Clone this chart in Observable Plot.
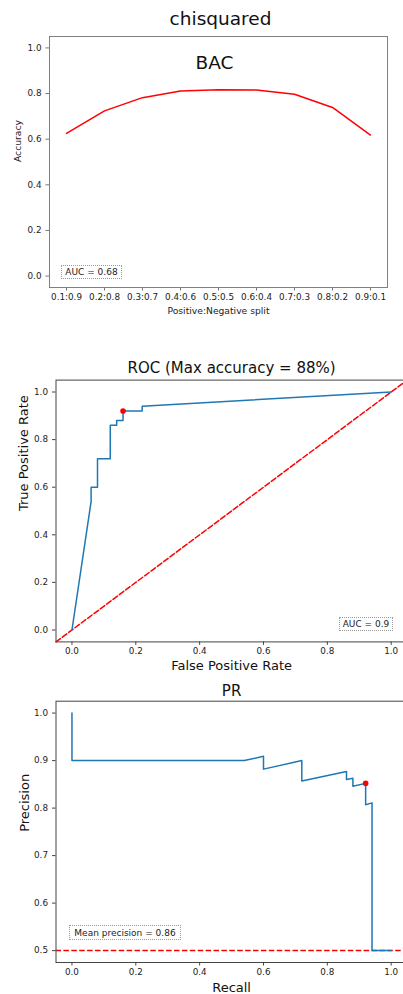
<!DOCTYPE html>
<html><head><meta charset="utf-8">
<script src="https://cdn.jsdelivr.net/npm/d3@7"></script>
<script src="https://cdn.jsdelivr.net/npm/@observablehq/plot@0.6"></script>
<style>
html,body{margin:0;padding:0;background:#fff;}
#root{position:relative;width:403px;height:994px;overflow:hidden;font-family:"DejaVu Sans",sans-serif;background:#fff;}
.panel{position:absolute;left:0;}
.box{position:absolute;box-sizing:border-box;border:1px dotted #9a9a9a;background:rgba(255,255,255,0.85);font-size:9px;color:#222;display:flex;align-items:center;justify-content:center;white-space:nowrap;font-family:"DejaVu Sans",sans-serif;}
</style></head><body><div id="root"></div>
<script>
// ---- data ----
const figureTitle = ["chisquared"];
const bacLabel = ["BAC"];
const splits = ["0.1:0.9","0.2:0.8","0.3:0.7","0.4:0.6","0.5:0.5","0.6:0.4","0.7:0.3","0.8:0.2","0.9:0.1"];
const bacAccuracy = [0.625,0.724,0.782,0.811,0.817,0.816,0.797,0.739,0.618];
const bacAuc = "AUC = 0.68";
const bacXLabel = ["Positive:Negative split"];
const bacYLabel = ["Accuracy"];

const rocTitle = ["ROC (Max accuracy = 88%)"];
const rocFpr = [0,0.06,0.06,0.08,0.08,0.12,0.12,0.14,0.14,0.16,0.16,0.22,0.22,1.0];
const rocTpr = [0,0.54,0.60,0.60,0.72,0.72,0.86,0.86,0.88,0.88,0.92,0.92,0.94,1.0];
const rocBestFpr = [0.16];
const rocBestTpr = [0.92];
const rocAuc = "AUC = 0.9";
const rocXLabel = ["False Positive Rate"];
const rocYLabel = ["True Positive Rate"];

const prTitle = ["PR"];
const prRecall    = [0,  0,  0.54,0.60, 0.60, 0.72,0.72, 0.86, 0.86,0.88, 0.88, 0.92, 0.92, 0.94, 0.94,1.0];
const prPrecision = [1.0,0.9,0.90,0.909,0.882,0.90,0.857,0.877,0.86,0.863,0.846,0.852,0.807,0.811,0.5, 0.5];
const prBestRecall = [0.92];
const prBestPrecision = [0.852];
const prBaseline = [0.5];
const prMean = "Mean precision = 0.86";
const prXLabel = ["Recall"];
const prYLabel = ["Precision"];

const unitTicks = [0,0.2,0.4,0.6,0.8,1.0];
const precisionTicks = [0.5,0.6,0.7,0.8,0.9,1.0];
const unitDomain = [-0.05,1.05];
const precisionDomain = [0.475,1.025];

// ---- helpers ----
const root = document.getElementById("root");
const FONT = "DejaVu Sans";
const TICK_FS = 8.8;
const fmt1 = d3.format(".1f");
function place(node, top, width) {
  const div = document.createElement("div");
  div.className = "panel";
  div.style.top = top + "px";
  div.style.width = width + "px";
  div.appendChild(node);
  root.appendChild(div);
}
function box(text, left, top, w, h) {
  const d = document.createElement("div");
  d.className = "box";
  d.style.left = left + "px"; d.style.top = top + "px";
  d.style.width = w + "px"; d.style.height = h + "px";
  d.textContent = text;
  root.appendChild(d);
}
const pts = (xs, ys) => xs.map((x, i) => ({x, y: ys[i]}));
const style = {fontFamily: FONT, fontSize: TICK_FS + "px", color: "#222", background: "transparent", maxWidth: "none", overflow: "visible"};

// ---- panel 1: BAC ----
const p1 = Plot.plot({
  width: 403, height: 330,
  marginTop: 36, marginRight: 16, marginBottom: 43, marginLeft: 49,
  style,
  x: {type: "point", domain: splits, padding: 0.4},
  y: {domain: unitDomain},
  marks: [
    Plot.axisX({tickSize: 3.5, tickPadding: 2.5, label: null, stroke: "#777", fontSize: TICK_FS}),
    Plot.axisY({ticks: unitTicks, tickFormat: fmt1, tickSize: 3.5, tickPadding: 4.5, label: null, stroke: "#777", fontSize: TICK_FS}),
    Plot.line(pts(splits, bacAccuracy), {x: "x", y: "y", stroke: "red", strokeWidth: 1.5}),
    Plot.frame({stroke: "#808080", strokeWidth: 1}),
    Plot.text(figureTitle, {text: d => d, frameAnchor: "top", lineAnchor: "middle", dy: -17, dx: 2, fontSize: 18.5, fill: "#111"}),
    Plot.text(bacLabel, {text: d => d, frameAnchor: "top", lineAnchor: "middle", dy: 27, dx: -4, fontSize: 18.5, fill: "#111"}),
    Plot.text(bacXLabel, {text: d => d, frameAnchor: "bottom", lineAnchor: "middle", dy: 23.5, fontSize: 9.2}),
    Plot.text(bacYLabel, {text: d => d, frameAnchor: "left", lineAnchor: "middle", dx: -31.2, rotate: -90, fontSize: 9.2})
  ]
});
place(p1, 0, 403);
box(bacAuc, 61, 265, 61, 13.5);

// ---- panel 2: ROC ----
const p2 = Plot.plot({
  width: 407, height: 325,
  marginTop: 24.6, marginRight: 0.35, marginBottom: 38.6, marginLeft: 55.5,
  style,
  x: {domain: unitDomain},
  y: {domain: unitDomain},
  marks: [
    Plot.axisX({ticks: unitTicks, tickFormat: fmt1, tickSize: 3.5, tickPadding: 2.5, label: null, stroke: "#444", fontSize: TICK_FS}),
    Plot.axisY({ticks: unitTicks, tickFormat: fmt1, tickSize: 3.5, tickPadding: 4.5, label: null, stroke: "#444", fontSize: TICK_FS}),
    Plot.line(unitDomain, {x: d => d, y: d => d, stroke: "red", strokeWidth: 1.5, strokeDasharray: "5.5,2.4"}),
    Plot.line(pts(rocFpr, rocTpr), {x: "x", y: "y", stroke: "#1f77b4", strokeWidth: 1.5}),
    Plot.dot(pts(rocBestFpr, rocBestTpr), {x: "x", y: "y", r: 2.8, fill: "red", stroke: "none"}),
    Plot.frame({stroke: "#444", strokeWidth: 1}),
    Plot.text(rocTitle, {text: d => d, frameAnchor: "top", lineAnchor: "middle", dy: -11.7, fontSize: 15, fill: "#111"}),
    Plot.text(rocXLabel, {text: d => d, frameAnchor: "bottom", lineAnchor: "middle", dy: 24.4, fontSize: 13, fill: "#111"}),
    Plot.text(rocYLabel, {text: d => d, frameAnchor: "left", lineAnchor: "middle", dx: -32, rotate: -90, fontSize: 13, fill: "#111"})
  ]
});
place(p2, 355, 407);
box(rocAuc, 339, 617, 54, 13.5);

// ---- panel 3: PR ----
const p3 = Plot.plot({
  width: 407, height: 314,
  marginTop: 20.7, marginRight: 0.35, marginBottom: 32, marginLeft: 55.5,
  style,
  x: {domain: unitDomain},
  y: {domain: precisionDomain},
  marks: [
    Plot.axisX({ticks: unitTicks, tickFormat: fmt1, tickSize: 3.5, tickPadding: 2.5, label: null, stroke: "#444", fontSize: TICK_FS}),
    Plot.axisY({ticks: precisionTicks, tickFormat: fmt1, tickSize: 3.5, tickPadding: 4.5, label: null, stroke: "#444", fontSize: TICK_FS}),
    Plot.ruleY(prBaseline, {stroke: "red", strokeWidth: 1.5, strokeDasharray: "5.5,2.4"}),
    Plot.line(pts(prRecall, prPrecision), {x: "x", y: "y", stroke: "#1f77b4", strokeWidth: 1.5}),
    Plot.dot(pts(prBestRecall, prBestPrecision), {x: "x", y: "y", r: 2.8, fill: "red", stroke: "none"}),
    Plot.frame({stroke: "#444", strokeWidth: 1}),
    Plot.text(prTitle, {text: d => d, frameAnchor: "top", lineAnchor: "middle", dy: -10.5, fontSize: 15, fill: "#111"}),
    Plot.text(prXLabel, {text: d => d, frameAnchor: "bottom", lineAnchor: "middle", dy: 25.5, fontSize: 13, fill: "#111"}),
    Plot.text(prYLabel, {text: d => d, frameAnchor: "left", lineAnchor: "middle", dx: -31, rotate: -90, fontSize: 13, fill: "#111"})
  ]
});
place(p3, 680, 407);
box(prMean, 69, 925, 112, 15);
</script></body></html>
